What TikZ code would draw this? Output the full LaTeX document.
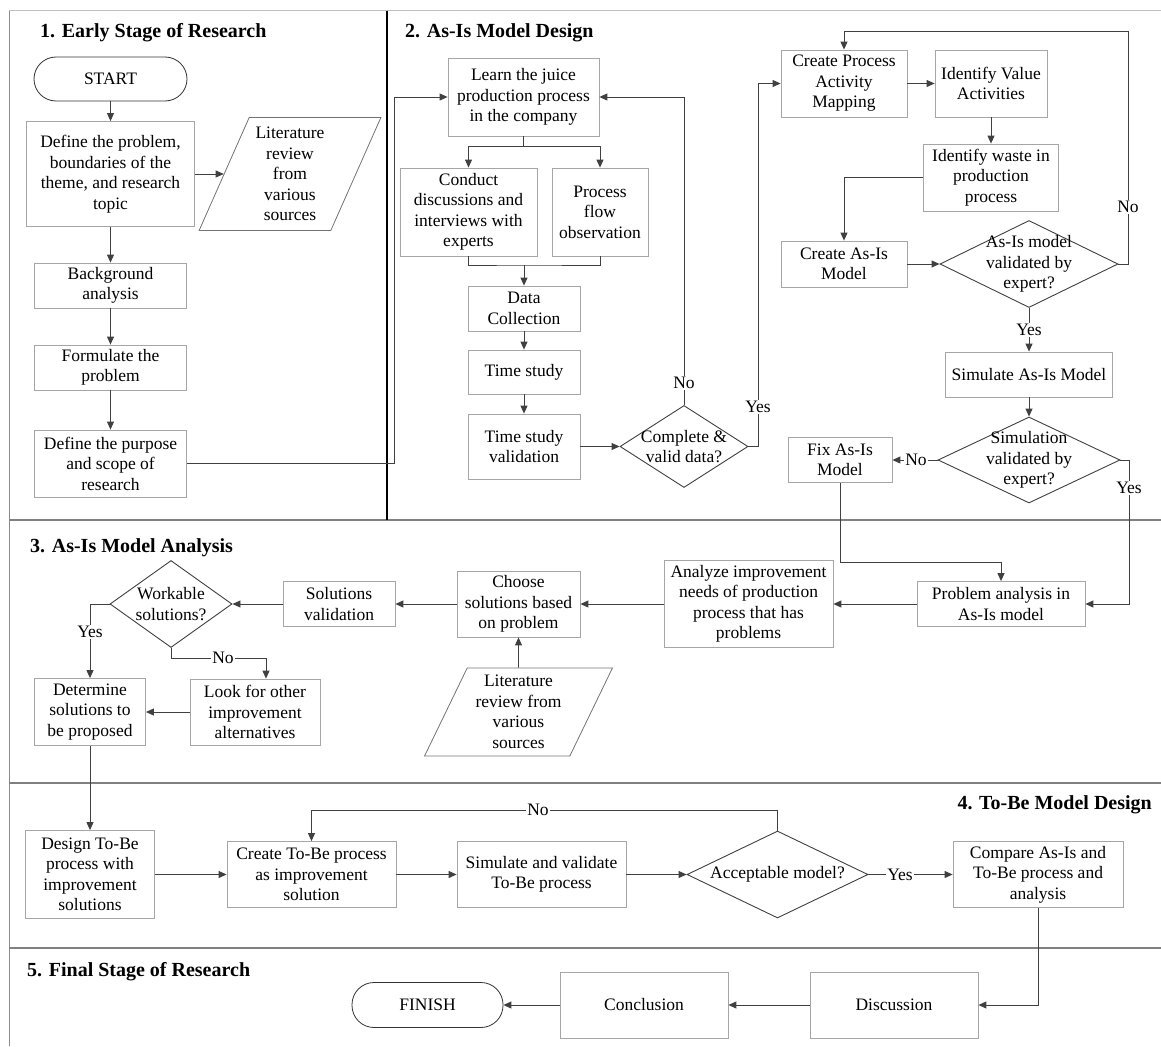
\documentclass[tikz,border=0pt]{standalone}
\usepackage{fontspec}
\setmainfont{Liberation Serif}
\usetikzlibrary{arrows.meta,shapes.geometric}
\newcommand{\fsz}{\fontsize{17.5}{20.5}\selectfont}
\newcommand{\tsz}{\fontsize{20}{24}\selectfont\bfseries}
\tikzset{
  box/.style={draw=black!35, line width=0.8pt, fill=white, align=center, inner sep=0pt, font=\fsz},
  term/.style={box, draw=black!80, rounded corners=22pt},
  dia/.style={diamond, draw=black!75, line width=0.9pt, inner sep=0pt, fill=white},
  dtext/.style={align=center, font=\fsz, inner sep=0pt},
  para/.style={trapezium, trapezium stretches=true, draw=black!55, line width=0.8pt,
    align=center, inner sep=0pt, font=\fsz},
  conn/.style={draw=black!75, line width=0.9pt},
  arr/.style={conn, -{Triangle[length=8pt,width=7pt]}},
  lab/.style={fill=white, inner sep=1pt, font=\fsz},
  ttl/.style={font=\tsz, inner sep=0pt},
  frameline/.style={draw=black!50, line width=2.2pt},
}
\begin{document}
\begin{tikzpicture}[x=1pt,y=-1pt]
\useasboundingbox (0,0) rectangle (1161,1046);

% frame and section separators
\draw[draw=black!25, line width=1pt] (9,11) -- (1161,11);
\draw[draw=black!45, line width=1pt] (9,11) -- (9,1046);
\draw[frameline] (9,520) -- (1161,520);
\draw[frameline] (9,783) -- (1161,783);
\draw[frameline] (9,948) -- (1161,948);
\draw[draw=black, line width=1.3pt] (387,11) -- (387,520);

% section titles
\node[ttl, anchor=west] (t1) at (40,33) {1. Early Stage of Research};
\node[ttl, anchor=west] (t2) at (405,33) {2. As-Is Model Design};
\node[ttl, anchor=west] (t3) at (30,548) {3. As-Is Model Analysis};
\node[ttl, anchor=east] (t4) at (1152,805) {4. To-Be Model Design};
\node[ttl, anchor=west] (t5) at (27,972) {5. Final Stage of Research};

% section 1
\node[term, minimum width=153pt, minimum height=44pt] (start) at (110.5,79) {START};
\node[box, minimum width=168pt, minimum height=105pt] (def) at (110.5,174) {Define the problem,\\boundaries of the\\theme, and research\\topic};
\node[para, trapezium left angle=65.7, trapezium right angle=114.3,
  minimum width=182pt, minimum height=113pt] (lit1) at (290,174) {Literature\\review\\from\\various\\sources};
\node[box, minimum width=152pt, minimum height=45pt] (bg) at (110.5,285.5) {Background\\analysis};
\node[box, minimum width=152pt, minimum height=45pt] (form) at (110.5,367.5) {Formulate the\\problem};
\node[box, minimum width=152pt, minimum height=67pt] (purp) at (110.5,463.5) {Define the purpose\\and scope of\\research};

% section 2
\node[box, minimum width=151pt, minimum height=78pt] (learn) at (523.5,97) {Learn the juice\\production process\\in the company};
\node[box, minimum width=137pt, minimum height=88pt] (conduct) at (468.5,212) {Conduct\\discussions and\\interviews with\\experts};
\node[box, minimum width=96pt, minimum height=88pt] (procobs) at (600,212) {Process\\flow\\observation};
\node[box, minimum width=112pt, minimum height=45pt] (data) at (524,308.5) {Data\\Collection};
\node[box, minimum width=112pt, minimum height=44pt] (tstudy) at (524,372) {Time study};
\node[box, minimum width=112pt, minimum height=65pt] (tval) at (524,446.5) {Time study\\validation};
\node[dia, minimum width=128pt, minimum height=82pt] (dvalid) at (684,446.5) {};
\node[dtext] (dvalidt) at (dvalid.center) {Complete \&\\valid data?};
\node[box, minimum width=126pt, minimum height=67pt] (cpam) at (844,83.5) {Create Process\\Activity\\Mapping};
\node[box, minimum width=112pt, minimum height=67pt] (ival) at (991,83.5) {Identify Value\\Activities};
\node[box, minimum width=135pt, minimum height=67pt] (iwaste) at (991,177.5) {Identify waste in\\production\\process};
\node[box, minimum width=126pt, minimum height=46pt] (casis) at (844,264) {Create As-Is\\Model};
\node[dia, minimum width=178pt, minimum height=87pt] (dasis) at (1029,264) {};
\node[dtext] (dasist) at (dasis.center) {As-Is model\\validated by\\expert?};
\node[box, minimum width=167pt, minimum height=45pt] (sim) at (1029,374.5) {Simulate As-Is Model};
\node[dia, minimum width=182pt, minimum height=86pt] (dsim) at (1029,460) {};
\node[dtext] (dsimt) at (dsim.center) {Simulation\\validated by\\expert?};
\node[box, minimum width=104pt, minimum height=45pt] (fix) at (840,460) {Fix As-Is\\Model};

% section 3
\node[box, minimum width=168pt, minimum height=45pt] (prob) at (1001,604) {Problem analysis in\\As-Is model};
\node[box, minimum width=169pt, minimum height=87pt] (anal) at (748.5,604) {Analyze improvement\\needs of production\\process that has\\problems};
\node[box, minimum width=123pt, minimum height=66pt] (choose) at (518.5,604) {Choose\\solutions based\\on problem};
\node[para, trapezium left angle=64, trapezium right angle=116,
  minimum width=188pt, minimum height=88pt] (lit2) at (518.5,712) {Literature\\review from\\various\\sources};
\node[box, minimum width=112pt, minimum height=45pt] (solv) at (339,604) {Solutions\\validation};
\node[dia, minimum width=122pt, minimum height=87pt] (dwork) at (171,604) {};
\node[dtext] (dworkt) at (dwork.center) {Workable\\solutions?};
\node[box, minimum width=111pt, minimum height=67pt] (det) at (90,712) {Determine\\solutions to\\be proposed};
\node[box, minimum width=130pt, minimum height=66pt] (look) at (255,712) {Look for other\\improvement\\alternatives};

% section 4
\node[box, minimum width=129pt, minimum height=88pt] (design) at (90,874.5) {Design To-Be\\process with\\improvement\\solutions};
\node[box, minimum width=169pt, minimum height=66pt] (ctobe) at (311.5,874.5) {Create To-Be process\\as improvement\\solution};
\node[box, minimum width=169pt, minimum height=66pt] (simtobe) at (541.5,874.5) {Simulate and validate\\To-Be process};
\node[dia, minimum width=181pt, minimum height=87pt] (dacc) at (777.5,874.5) {};
\node[dtext] (dacct) at (dacc.center) {Acceptable model?};
\node[box, minimum width=170pt, minimum height=66pt] (comp) at (1038,874.5) {Compare As-Is and\\To-Be process and\\analysis};

% section 5
\node[term, minimum width=151pt, minimum height=45pt] (finish) at (427.5,1005) {FINISH};
\node[box, minimum width=168pt, minimum height=66pt] (concl) at (644,1005) {Conclusion};
\node[box, minimum width=168pt, minimum height=66pt] (disc) at (894,1005) {Discussion};

% bend points
\coordinate (j1) at (394,463.5);
\coordinate (split) at (523.5,146);
\coordinate (merge) at (524,265);
\coordinate (jyes1) at (758,446.5);
\coordinate (jtop) at (1128,31);
\coordinate (jyes2) at (1129,460);
\coordinate (jfix) at (1001,562);
\coordinate (jno3) at (266,658);
\coordinate (jno4) at (777.5,810);

% connectors, section 1
\draw[arr] (start.south) -- (def.north);
\draw[arr] (def.east) -- (lit1.left side);
\draw[arr] (def.south) -- (bg.north);
\draw[arr] (bg.south) -- (form.north);
\draw[arr] (form.south) -- (purp.north);
\draw[arr] (purp.east) -- (j1) |- (learn.west);

% connectors, section 2
\draw[conn] (learn.south) -- (split);
\draw[arr] (split) -| (conduct.north);
\draw[arr] (split) -| (procobs.north);
\draw[conn] (conduct.south) |- (merge) -| (procobs.south);
\draw[arr] (merge) -- (data.north);
\draw[arr] (data.south) -- (tstudy.north);
\draw[arr] (tstudy.south) -- (tval.north);
\draw[arr] (tval.east) -- (dvalid.west);
\draw[arr] (dvalid.north) |- (learn.east);
\draw[arr] (dvalid.east) -- (jyes1) |- (cpam.west);
\draw[arr] (cpam.east) -- (ival.west);
\draw[arr] (ival.south) -- (iwaste.north);
\draw[arr] (iwaste.west) -| (casis.north);
\draw[arr] (casis.east) -- (dasis.west);
\draw[arr] (dasis.east) -| (jtop) -| (cpam.north);
\draw[arr] (dasis.south) -- (sim.north);
\draw[arr] (sim.south) -- (dsim.north);
\draw[arr] (dsim.west) -- (fix.east);
\draw[arr] (dsim.east) -- (jyes2) |- (prob.east);
\draw[arr] (fix.south) |- (jfix) -- (prob.north);

% connectors, section 3
\draw[arr] (prob.west) -- (anal.east);
\draw[arr] (anal.west) -- (choose.east);
\draw[arr] (lit2.north) -- (choose.south);
\draw[arr] (choose.west) -- (solv.east);
\draw[arr] (solv.west) -- (dwork.east);
\draw[arr] (dwork.west) -| (det.north);
\draw[arr] (dwork.south) |- (jno3) -- (jno3 |- look.north);
\draw[arr] (look.west) -- (det.east);
\draw[arr] (det.south) -- (design.north);

% connectors, section 4 and 5
\draw[arr] (design.east) -- (ctobe.west);
\draw[arr] (ctobe.east) -- (simtobe.west);
\draw[arr] (simtobe.east) -- (dacc.west);
\draw[arr] (dacc.north) -- (jno4) -| (ctobe.north);
\draw[arr] (dacc.east) -- (comp.west);
\draw[arr] (comp.south) |- (disc.east);
\draw[arr] (disc.west) -- (concl.east);
\draw[arr] (concl.west) -- (finish.east);

% branch labels
\node[lab] (l1) at (684,383) {No};
\node[lab] (l2) at (758,407) {Yes};
\node[lab] (l3) at (1128,207) {No};
\node[lab] (l4) at (1029,330) {Yes};
\node[lab] (l5) at (916,460) {No};
\node[lab] (l6) at (1129,488) {Yes};
\node[lab] (l7) at (90,632) {Yes};
\node[lab] (l8) at (223,658) {No};
\node[lab] (l9) at (538,810) {No};
\node[lab] (l10) at (900,874.5) {Yes};
\end{tikzpicture}
\end{document}
